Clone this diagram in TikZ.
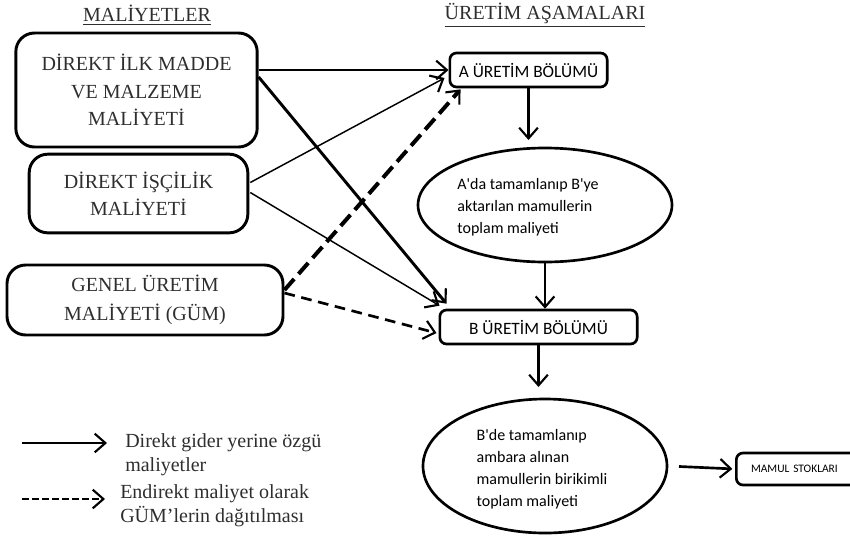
\documentclass[tikz,border=0pt]{standalone}
\usepackage{fontspec}
\setmainfont{Liberation Serif}
\newfontfamily\calfont{Carlito}
\usetikzlibrary{arrows.meta,calc,shapes.geometric}
\definecolor{inkgray}{gray}{0.18}
\begin{document}
\begin{tikzpicture}[x=0.75pt,y=-0.75pt,
  costbox/.style={draw, line width=2.2pt, rounded corners=14pt, align=center,
    font=\fontsize{15}{20.5}\selectfont, text=inkgray, inner sep=0pt},
  stagebox/.style={draw, line width=2pt, rounded corners=5pt,
    font=\calfont\fontsize{13}{15}\selectfont, inner sep=0pt},
  oval/.style={draw, ellipse, line width=2pt, inner sep=0pt},
  ovaltext/.style={align=left, font=\calfont\fontsize{12}{16.6}\selectfont, inner sep=0pt},
  header/.style={font=\fontsize{15}{18}\selectfont, text=inkgray},
  legendtext/.style={align=left, anchor=west, font=\fontsize{15}{18}\selectfont, text=inkgray, inner sep=0pt},
  tip/.style={-{Straight Barb[length=8pt,width=14pt,line width=1.6pt]}},
  thickarrow/.style={tip, line width=2.2pt},
  thinarrow/.style={tip, line width=1.1pt},
  dasharrow/.style={tip, line width=3pt, dash pattern=on 11pt off 5pt},
  dasharrowb/.style={tip, line width=2pt, dash pattern=on 8pt off 5pt},
  downarrow/.style={tip, line width=2pt},
]
\useasboundingbox (0,0) rectangle (850,547);
\clip (0,0) rectangle (850,547);

% headers
\node[header] (h1) at (147,15) {\underline{MALİYETLER}};
\node[header] (h2) at (545,15) {\underline{ÜRETİM AŞAMALARI}};

% cost boxes
\node[costbox, minimum width=181pt, minimum height=85.5pt] (c1) at (136.5,90)
  {DİREKT İLK MADDE\\VE MALZEME\\MALİYETİ};
\node[costbox, minimum width=164pt, minimum height=59pt] (c2) at (138.5,193.5)
  {DİREKT İŞÇİLİK\\MALİYETİ};
\node[costbox, minimum width=207pt, minimum height=52.5pt, font=\fontsize{15}{21.5}\selectfont] (c3) at (145,300)
  {GENEL ÜRETİM\\MALİYETİ (GÜM)};

% stages
\node[stagebox, minimum width=118pt, minimum height=25.5pt] (A) at (528.5,70) {A ÜRETİM BÖLÜMÜ};
\node[oval, minimum width=190.5pt, minimum height=85.5pt] (e1) at (545,205) {};
\node[ovaltext] (e1t) at (528,207) {A'da tamamlanıp B'ye\\aktarılan mamullerin\\toplam maliyeti};
\node[stagebox, minimum width=148pt, minimum height=25.5pt] (B) at (538.5,327) {B ÜRETİM BÖLÜMÜ};
\node[oval, minimum width=183pt, minimum height=100.5pt] (e2) at (545,466) {};
\node[ovaltext] (e2t) at (542,469) {B'de tamamlanıp\\ambara alınan\\mamullerin birikimli\\toplam maliyeti};
\node[stagebox, anchor=west, text width=100pt, align=left, inner xsep=11pt,
  minimum height=24pt, font=\calfont\fontsize{8.6}{10}\selectfont] (M) at (735,469) {MAMUL STOKLARI};

% vertical flow
\draw[downarrow, shorten >=5pt] (A.south) -- (A.south |- e1.north);
\draw[downarrow] (e1.south) -- (e1.south |- B.north);
\draw[downarrow, shorten >=8pt] (B.south) -- (B.south |- e2.north);
\draw[downarrow, shorten <=8pt, shorten >=2pt] (e2.east) -- (M.west);

% cost flows
\draw[thickarrow] (c1.east |- A.west) -- (A.west);
\draw[thickarrow] ($(c1.east)+(0,-13)$) -- ($(B.north west)+(8,-5)$);
\draw[thinarrow] ($(c2.east)+(1,-11)$) -- ($(A.west)+(-4,8)$);
\draw[thinarrow] ($(c2.east)+(1,-1)$) -- ($(B.north west)+(1,-3)$);
\draw[dasharrow] ($(c3.east)+(0,-10)$) -- ($(A.south west)+(12,1)$);
\draw[dasharrowb] ($(c3.east)+(0,-7)$) -- ($(B.west)+(-2,6)$);

% legend
\coordinate (l1a) at (22,443);
\coordinate (l1b) at (107,443);
\coordinate (l2a) at (22,499);
\coordinate (l2b) at (105,499);
\draw[tip, line width=2.2pt] (l1a) -- (l1b);
\draw[tip, line width=2pt, dash pattern=on 5pt off 2.5pt] (l2a) -- (l2b);
\node[legendtext] (t1) at (125,455) {Direkt gider yerine özgü\\maliyetler};
\node[legendtext] (t2) at (120,506) {Endirekt maliyet olarak\\GÜM’lerin dağıtılması};
\end{tikzpicture}
\end{document}
